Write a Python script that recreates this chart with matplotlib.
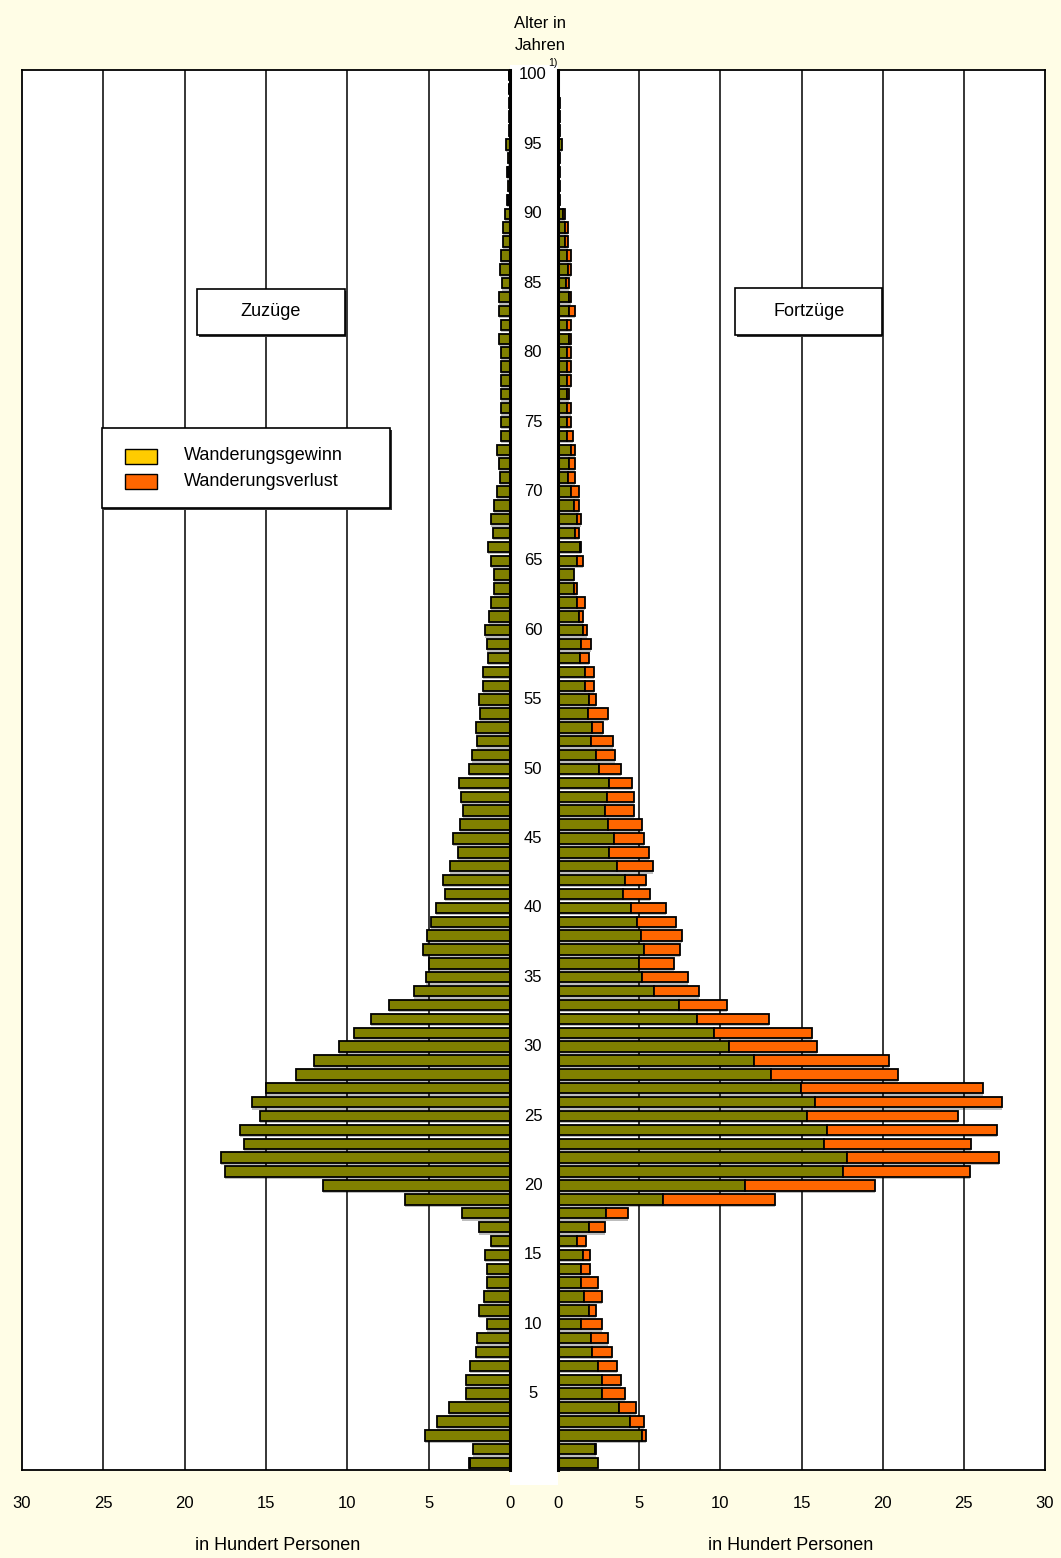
import numpy as np
import matplotlib

matplotlib.use("Agg")
import matplotlib.pyplot as plt
from matplotlib import transforms
from matplotlib.patches import Rectangle

plt.rcParams["font.family"] = ["Liberation Sans", "DejaVu Sans"]

# values in hundred persons, age 0 .. 100
ages = np.arange(0, 101)
zuzuege = np.array([
    2.55, 2.30, 5.20, 4.46, 3.78, 2.69, 2.69, 2.48, 2.11, 2.01,   # 0-9
    1.40, 1.89, 1.62, 1.40, 1.40, 1.52, 1.15, 1.88, 2.93, 6.45,   # 10-19
    11.50, 17.55, 17.78, 16.36, 16.58, 15.35, 15.85, 14.97, 13.15, 12.07,  # 20-29
    10.52, 9.59, 8.55, 7.45, 5.92, 5.18, 5.00, 5.32, 5.12, 4.85,  # 30-39
    4.52, 4.02, 4.12, 3.66, 3.17, 3.48, 3.10, 2.92, 3.00, 3.12,   # 40-49
    2.50, 2.34, 2.05, 2.10, 1.87, 1.89, 1.64, 1.64, 1.33, 1.40,   # 50-59
    1.52, 1.27, 1.17, 1.00, 0.98, 1.17, 1.35, 1.04, 1.17, 0.98,   # 60-69
    0.81, 0.64, 0.70, 0.82, 0.57, 0.57, 0.57, 0.57, 0.57, 0.57,   # 70-79
    0.57, 0.70, 0.57, 0.70, 0.70, 0.47, 0.61, 0.57, 0.45, 0.45,   # 80-89
    0.31, 0.20, 0.10, 0.20, 0.10, 0.25, 0.08, 0.08, 0.08, 0.08,   # 90-99
    0.08,                                                         # 100
])
fortzuege = np.array([
    2.46, 2.32, 5.40, 5.30, 4.83, 4.13, 3.88, 3.63, 3.31, 3.06,   # 0-9
    2.69, 2.34, 2.69, 2.46, 1.99, 1.99, 1.75, 2.92, 4.34, 13.37,  # 10-19
    19.55, 25.37, 27.16, 25.45, 27.02, 24.65, 27.37, 26.19, 20.97, 20.37,  # 20-29
    15.97, 15.64, 13.02, 10.39, 8.70, 8.00, 7.15, 7.52, 7.62, 7.25,  # 30-39
    6.65, 5.67, 5.40, 5.87, 5.61, 5.30, 5.15, 4.70, 4.70, 4.58,   # 40-49
    3.86, 3.51, 3.39, 2.79, 3.05, 2.34, 2.23, 2.23, 1.93, 2.03,   # 50-59
    1.78, 1.52, 1.66, 1.19, 0.98, 1.56, 1.43, 1.31, 1.43, 1.31,   # 60-69
    1.31, 1.05, 1.05, 1.05, 0.94, 0.80, 0.80, 0.66, 0.80, 0.80,   # 70-79
    0.80, 0.80, 0.80, 1.07, 0.80, 0.66, 0.80, 0.80, 0.59, 0.59,   # 80-89
    0.45, 0.15, 0.10, 0.10, 0.10, 0.25, 0.15, 0.12, 0.10, 0.05,   # 90-99
    0.05,                                                         # 100
])

age_ticks = list(range(5, 101, 5))
x_ticks = [0, 5, 10, 15, 20, 25, 30]

W, H = 1061, 1558
BG = "#FFFDE6"
OLIVE = "#808000"
ORANGE = "#FF6600"
YELLOW = "#FFCC00"
FS = 12
FS_TXT = 13


def fx(px):
    return px / W


def fy(py):
    return 1 - py / H


fig = plt.figure(figsize=(W / 100, H / 100), dpi=100, facecolor=BG)

# white strip for the age labels
fig.add_artist(Rectangle((fx(510), fy(1485)), fx(558) - fx(510), (1485 - 65) / H,
                         transform=fig.transFigure, facecolor="white",
                         edgecolor="none", zorder=0))

axL = fig.add_axes([fx(22), fy(1470), fx(510) - fx(22), 1400 / H])
axR = fig.add_axes([fx(558), fy(1470), fx(1045) - fx(558), 1400 / H])

common = np.minimum(zuzuege, fortzuege)
gain = zuzuege - common
loss = fortzuege - common
bar_h = 0.75

for ax, total, extra, extra_col in [(axL, zuzuege, gain, YELLOW), (axR, fortzuege, loss, ORANGE)]:
    ax.set_facecolor("white")
    ax.set_xlim(0, 30)
    ax.set_ylim(-0.5, 100.36)
    ax.set_yticks([])
    ax.set_xticks(x_ticks)
    ax.set_xticklabels([str(v) for v in x_ticks])
    ax.tick_params(axis="x", length=0, pad=19, labelsize=FS)
    for s in ax.spines.values():
        s.set_linewidth(1.3)
    for v in x_ticks[1:-1]:
        ax.axvline(v, color="black", lw=1.1, zorder=1.9)
    # drop shadow
    ax.barh(ages - 0.16, total, height=bar_h, color="#bdbdbd", lw=0, zorder=1.8)
    ax.barh(ages, common, height=bar_h, color=OLIVE, edgecolor="black", lw=1.3, zorder=2)
    m = extra > 0.005
    ax.barh(ages[m], extra[m], left=common[m], height=bar_h, color=extra_col,
            edgecolor="black", lw=1.3, zorder=2)

axL.invert_xaxis()
axL.spines["right"].set_linewidth(2.2)
axR.spines["left"].set_linewidth(2.2)

# age labels in the centre strip
trans = transforms.blended_transform_factory(fig.transFigure, axL.transData)
for a in age_ticks:
    fig.text(fx(533), a, str(a), transform=trans, ha="center", va="center", fontsize=FS)
fig.text(fx(553), fy(63), "1)", ha="center", va="center", fontsize=7.5)
fig.text(fx(540), fy(23), "Alter in", ha="center", va="center", fontsize=FS)
fig.text(fx(540), fy(45), "Jahren", ha="center", va="center", fontsize=FS)

fig.text(fx(278), fy(1546), "in Hundert Personen", ha="center", va="center", fontsize=FS_TXT)
fig.text(fx(791), fy(1546), "in Hundert Personen", ha="center", va="center", fontsize=FS_TXT)


def box(x0, y0, x1, y1):
    fig.add_artist(Rectangle((fx(x0 + 2), fy(y1 + 2)), fx(x1 - x0), (y1 - y0) / H,
                             transform=fig.transFigure, facecolor="#333333",
                             edgecolor="none", zorder=4))
    fig.add_artist(Rectangle((fx(x0), fy(y1)), fx(x1 - x0), (y1 - y0) / H,
                             transform=fig.transFigure, facecolor="white",
                             edgecolor="black", lw=1.2, zorder=5))


box(197, 289, 345, 335)
fig.text(fx(271), fy(312), "Zuzüge", ha="center", va="center", fontsize=FS_TXT, zorder=6)
box(735, 288, 882, 335)
fig.text(fx(809), fy(312), "Fortzüge", ha="center", va="center", fontsize=FS_TXT, zorder=6)

box(102, 428, 390, 508)
for (ytop, col, label) in [(449, YELLOW, "Wanderungsgewinn"), (474, ORANGE, "Wanderungsverlust")]:
    fig.add_artist(Rectangle((fx(125), fy(ytop + 15)), fx(32), 15 / H,
                             transform=fig.transFigure, facecolor=col,
                             edgecolor="black", lw=1.0, zorder=6))
    fig.text(fx(184), fy(ytop + 7), label, ha="left", va="center", fontsize=FS_TXT, zorder=6)

fig.savefig("out.png", dpi=100, facecolor=BG)
